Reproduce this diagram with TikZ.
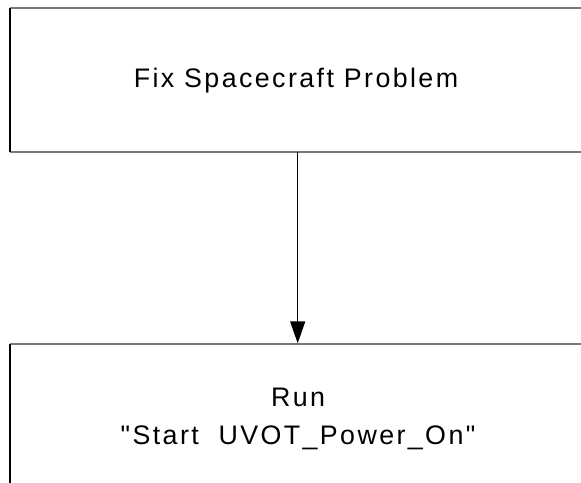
\documentclass[tikz,border=0pt]{standalone}
\usepackage{fontspec}
\setmainfont{Liberation Sans}[LetterSpace=9, Ligatures=TeXOff]
\usetikzlibrary{arrows.meta}
\tikzset{
  stepbox/.style={draw=none, rectangle, inner sep=0pt, anchor=north west},
  topedge/.style={draw={rgb,255:red,120;green,120;blue,120}, line width=2pt},
  sideedge/.style={draw=black, line width=1.6pt},
  flow/.style={draw=black, line width=1.4pt, -{Triangle[length=22pt,width=15pt]}},
  caption/.style={font=\fontsize{26.8}{38}\selectfont, inner sep=0pt, align=center, anchor=base}
}
\begin{document}
\begin{tikzpicture}[x=1pt, y=-1pt]
  \useasboundingbox (0,0) rectangle (581,482);
  \clip (0,0) rectangle (581,482);
  % process boxes (they run on past the right and bottom edges)
  \node[stepbox, minimum width=620pt, minimum height=144pt] (fix) at (9.8,7.7) {};
  \node[stepbox, minimum width=620pt, minimum height=160pt] (run) at (9.8,344.3) {};
  \draw[topedge] (fix.north west) -- (fix.north east);
  \draw[topedge] (fix.south west) -- (fix.south east);
  \draw[sideedge] (fix.north west) -- (fix.south west);
  \draw[topedge] (run.north west) -- (run.north east);
  \draw[sideedge] (run.north west) -- (run.south west);
  % labels (a two-line node sits on the baseline of its last line)
  \node[caption] (fixtext) at (296,87.7) {Fix Spacecraft Problem};
  \node[caption] (runtext) at (298,444.7) {Run\\"Start\ \ UVOT\_Power\_On"};
  % connector
  \coordinate (from) at (297.7,151.7);
  \coordinate (to) at (297.7,343.3);
  \draw[flow] (from) -- (to);
\end{tikzpicture}
\end{document}
